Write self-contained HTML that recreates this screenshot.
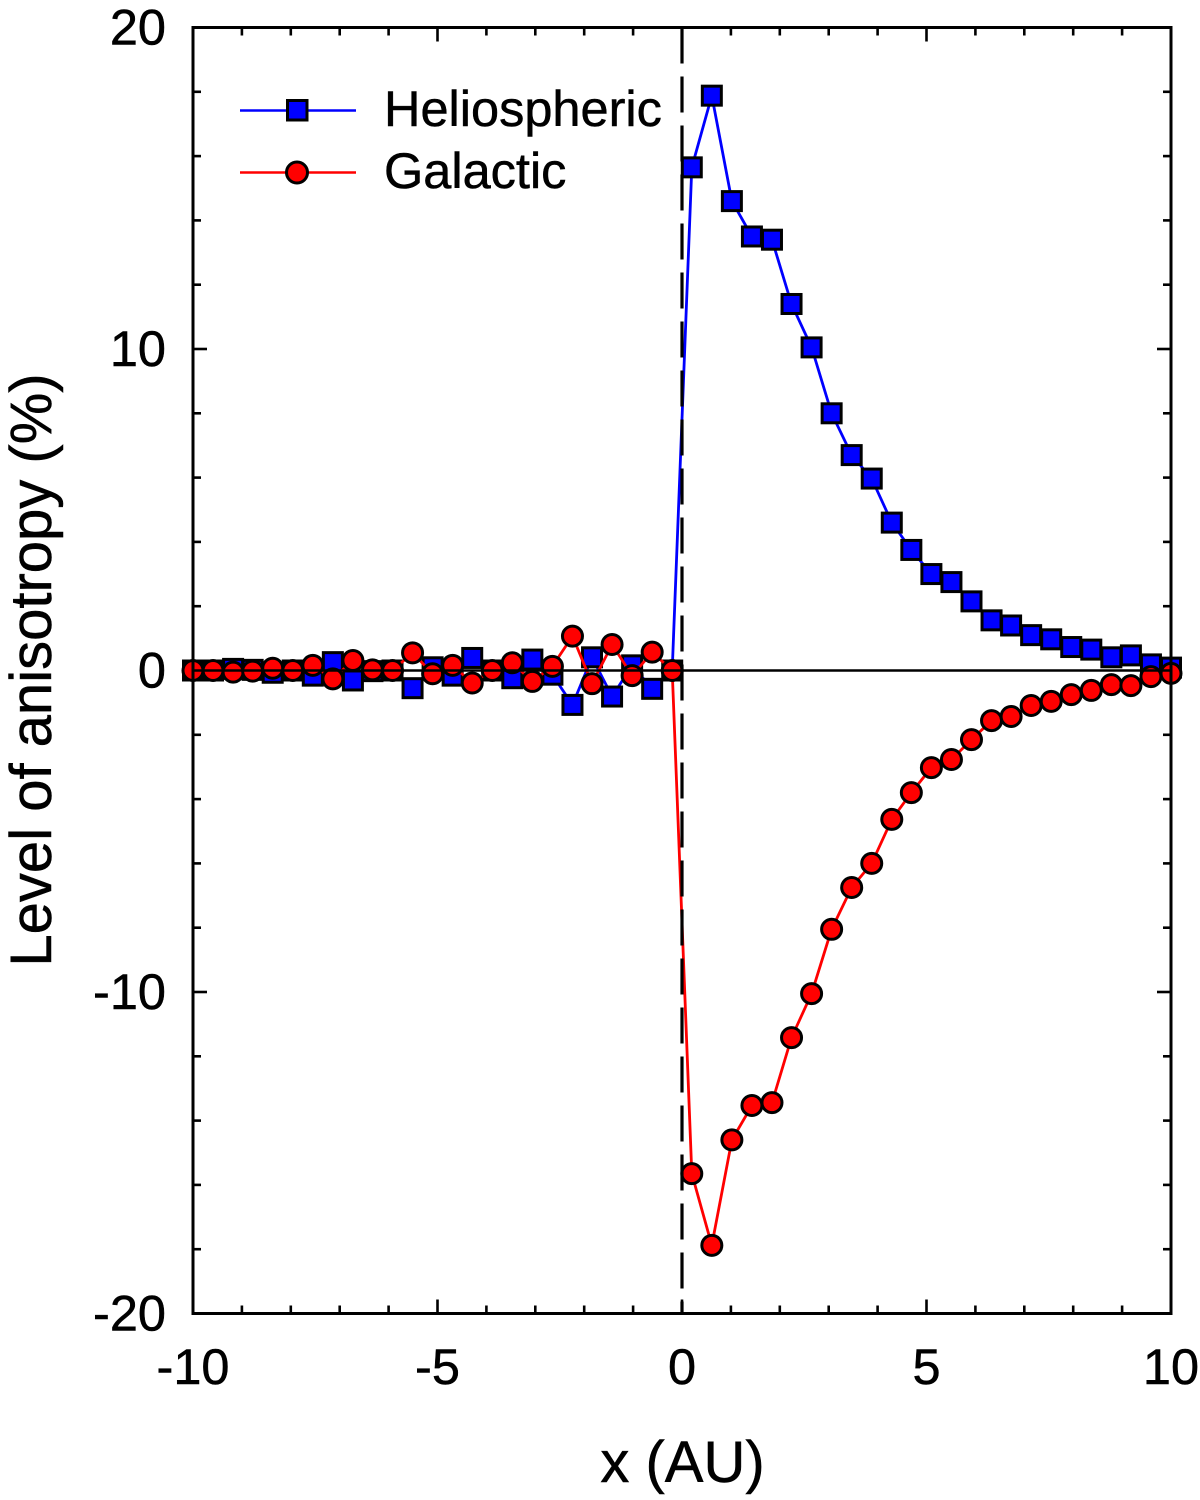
<!DOCTYPE html>
<html lang="en">
<head>
<meta charset="utf-8">
<title>Level of anisotropy</title>
<style>
html,body{margin:0;padding:0;background:#fff;width:1200px;height:1500px;overflow:hidden}
svg{display:block}
text{font-family:"Liberation Sans",Arial,sans-serif;fill:#000;stroke:#000;stroke-width:0.5px}
</style>
</head>
<body>
<svg id="chart" xmlns="http://www.w3.org/2000/svg" width="1200" height="1500" viewBox="0 0 1200 1500">
  <rect x="0" y="0" width="1200" height="1500" fill="#fff"/>
  <g id="ticks"></g>
  <g id="tickLabels" font-size="50.500"></g>
  <g id="series"></g>
  <rect x="193" y="27.500" width="978" height="1286" fill="none" stroke="#000" stroke-width="3"/>
  <text x="682.500" y="1482" font-size="58" text-anchor="middle">x (AU)</text>
  <text transform="translate(51 670) rotate(-90)" font-size="58" text-anchor="middle">Level of anisotropy (%)</text>
  <g>
    <g>
      <line x1="240" x2="356" y1="110.500" y2="110.500" stroke="#0000ff" stroke-width="2.400"/>
      <rect x="287.500" y="100.500" width="19.500" height="19.500" fill="#0000ff" stroke="#000" stroke-width="3"/>
      <text x="384" y="126" font-size="50.500">Heliospheric</text>
    </g>
    <g>
      <line x1="240" x2="356" y1="172.500" y2="172.500" stroke="#ff0000" stroke-width="2.400"/>
      <circle cx="297" cy="172.500" r="10.500" fill="#ff0000" stroke="#000" stroke-width="3"/>
      <text x="384" y="188" font-size="50.500">Galactic</text>
    </g>
  </g>
</svg>
<script>
const xValues = [-10,-9.59,-9.18,-8.78,-8.37,-7.96,-7.55,-7.14,-6.73,-6.33,-5.92,-5.51,-5.10,-4.69,-4.29,-3.88,-3.47,-3.06,-2.65,-2.24,-1.84,-1.43,-1.02,-0.61,-0.20,0.20,0.61,1.02,1.43,1.84,2.24,2.65,3.06,3.47,3.88,4.29,4.69,5.10,5.51,5.92,6.33,6.73,7.14,7.55,7.96,8.37,8.78,9.18,9.59,10];
const heliospheric = [0,0,0.05,0.02,-0.07,0,-0.16,0.26,-0.31,-0.02,0,-0.55,0.10,-0.16,0.39,0,-0.24,0.34,-0.13,-1.07,0.41,-0.81,0.16,-0.57,0,15.65,17.88,14.6,13.5,13.4,11.4,10.05,8.0,6.7,5.97,4.6,3.75,3.0,2.75,2.15,1.56,1.4,1.1,0.97,0.73,0.65,0.41,0.47,0.19,0.09];
const galactic = [0,0,-0.05,-0.02,0.07,0,0.16,-0.26,0.31,0.02,0,0.55,-0.10,0.16,-0.39,0,0.24,-0.34,0.13,1.07,-0.41,0.81,-0.16,0.57,0,-15.65,-17.88,-14.6,-13.53,-13.44,-11.42,-10.05,-8.05,-6.75,-6.0,-4.63,-3.8,-3.02,-2.77,-2.15,-1.56,-1.43,-1.09,-0.96,-0.75,-0.62,-0.44,-0.47,-0.19,-0.09];
const xTickLabels = [-10,-5,0,5,10];
const yTickLabels = [-20,-10,0,10,20];
const xMinorTicks = [-9,-8,-7,-6,-4,-3,-2,-1,1,2,3,4,6,7,8,9];
const yMinorTicks = [-18,-16,-14,-12,-8,-6,-4,-2,2,4,6,8,12,14,16,18];

const xDomain = [-10, 10];
const yDomain = [-20, 20];
const xRange = [193, 1171];
const yRange = [1313.5, 27.5];
function xScale(v){ return xRange[0] + (v - xDomain[0]) / (xDomain[1] - xDomain[0]) * (xRange[1] - xRange[0]); }
function yScale(v){ return yRange[0] + (v - yDomain[0]) / (yDomain[1] - yDomain[0]) * (yRange[1] - yRange[0]); }

const NS = 'http://www.w3.org/2000/svg';
function make(tag, parent, attrs){
  const el = document.createElementNS(NS, tag);
  for (const k in attrs) el.setAttribute(k, attrs[k]);
  parent.appendChild(el);
  return el;
}
const tickGroup = document.getElementById('ticks');
const labelGroup = document.getElementById('tickLabels');
const seriesGroup = document.getElementById('series');

function xTick(v, len){
  const x = xScale(v);
  const bottom = make('line', tickGroup, {x1:x, x2:x, y1:yRange[0], y2:yRange[0]-len, stroke:'#000', 'stroke-width':2.6});
  
  
  const top = make('line', tickGroup, {x1:x, x2:x, y1:yRange[1], y2:yRange[1]+len, stroke:'#000', 'stroke-width':2.6});
  
  
}
function yTick(v, len){
  const y = yScale(v);
  const left = make('line', tickGroup, {x1:xRange[0], x2:xRange[0]+len, y1:y, y2:y, stroke:'#000', 'stroke-width':2.6});
  
  
  const right = make('line', tickGroup, {x1:xRange[1], x2:xRange[1]-len, y1:y, y2:y, stroke:'#000', 'stroke-width':2.6});
  
  
}
xMinorTicks.forEach(v => xTick(v, 8));
yMinorTicks.forEach(v => yTick(v, 8));
xTickLabels.forEach(v => {
  xTick(v, 14);
  const t = make('text', labelGroup, {x:xScale(v), y:1384, 'text-anchor':'middle'});
  
  
  t.textContent = String(v);
});
yTickLabels.forEach(v => {
  yTick(v, 14);
  const t = make('text', labelGroup, {x:166, y:yScale(v)+17, 'text-anchor':'end'});
  
  
  t.textContent = String(v);
});

function linePoints(values){
  return values.map((v, i) => xScale(xValues[i]).toFixed(1) + ',' + yScale(v).toFixed(1)).join(' ');
}

const heliosphericGroup = make('g', seriesGroup, {});


const heliosphericLine = make('polyline', heliosphericGroup, {points:linePoints(heliospheric), fill:'none', stroke:'#0000ff', 'stroke-width':2.8});


heliospheric.forEach((v, i) => {
  const s = make('rect', heliosphericGroup, {x:xScale(xValues[i])-9.5, y:yScale(v)-9.5, width:19, height:19, fill:'#0000ff', stroke:'#000', 'stroke-width':3});
  
  
});

const galacticGroup = make('g', seriesGroup, {});


const galacticLine = make('polyline', galacticGroup, {points:linePoints(galactic), fill:'none', stroke:'#ff0000', 'stroke-width':2.8});


galactic.forEach((v, i) => {
  const c = make('circle', galacticGroup, {cx:xScale(xValues[i]), cy:yScale(v), r:10, fill:'#ff0000', stroke:'#000', 'stroke-width':3});
  
  
});

const zeroLine = make('line', seriesGroup, {x1:xRange[0], x2:xRange[1], y1:yScale(0), y2:yScale(0), stroke:'#000', 'stroke-width':2.6});


const dashLine = make('line', seriesGroup, {x1:xScale(0), x2:xScale(0), y1:yRange[1], y2:yRange[0], stroke:'#000', 'stroke-width':3.2, 'stroke-dasharray':'36 13'});


</script>
</body>
</html>
